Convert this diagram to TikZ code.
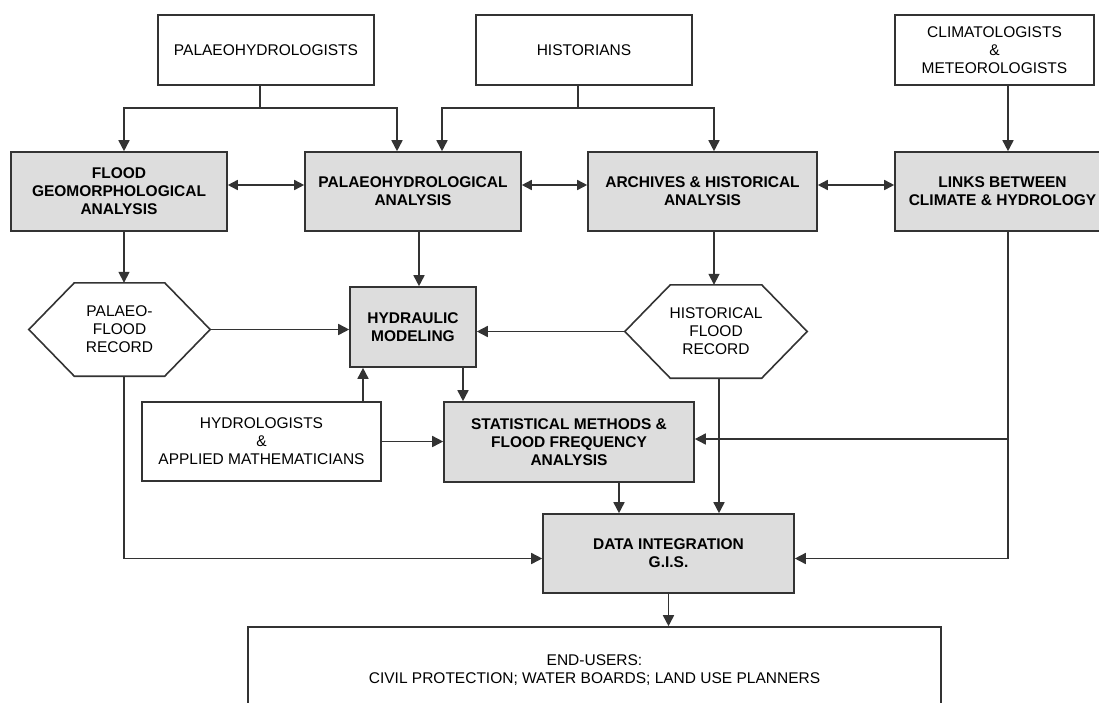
\documentclass[tikz,border=0pt]{standalone}
\usepackage{fontspec}
\setmainfont{Liberation Sans}
\usepackage{xcolor}
\usepackage{tikz}
\usetikzlibrary{arrows.meta,calc}
\definecolor{ln}{HTML}{333333}
\definecolor{gf}{HTML}{DDDDDD}
\tikzset{
  box/.style={draw=ln,line width=1.6pt,align=center,inner sep=0pt,font=\fontsize{15.5}{18}\selectfont},
  gbox/.style={box,fill=gf,font=\fontsize{15.5}{18}\selectfont\bfseries},
  hexn/.style={align=center,inner sep=0pt,font=\fontsize{15.5}{18}\selectfont},
  arr/.style={draw=ln,line width=1.6pt,-{Triangle[length=11pt,width=11pt]}},
  both/.style={draw=ln,line width=1.6pt,{Triangle[length=10pt,width=10pt]}-{Triangle[length=10pt,width=10pt]}},
}
\begin{document}
\begin{tikzpicture}[x=1pt,y=-1pt]
  \useasboundingbox (0,0) rectangle (1099,702);
  % experts on top, analyses below, end-users at the foot
  \node[box,minimum width=216pt,minimum height=70pt] (pal) at (266,50) {PALAEOHYDROLOGISTS};
  \node[box,minimum width=216pt,minimum height=70pt] (hist) at (584,50) {HISTORIANS};
  \node[box,minimum width=199pt,minimum height=70pt] (clim) at (994.5,50) {CLIMATOLOGISTS\\\&\\METEOROLOGISTS};
  \node[gbox,minimum width=216pt,minimum height=79pt] (flood) at (119,191.5) {FLOOD\\GEOMORPHOLOGICAL\\ANALYSIS};
  \node[gbox,minimum width=216pt,minimum height=79pt] (paly) at (413,191.5) {PALAEOHYDROLOGICAL\\ANALYSIS};
  \node[gbox,minimum width=229pt,minimum height=79pt] (arch) at (702.5,191.5) {ARCHIVES \& HISTORICAL\\ANALYSIS};
  \node[gbox,minimum width=215pt,minimum height=79pt] (links) at (1002.5,191.5) {LINKS BETWEEN\\CLIMATE \& HYDROLOGY};
  \node[hexn,minimum width=181pt,minimum height=93pt] (pf) at (119.5,329.5) {PALAEO-\\FLOOD\\RECORD};
  \node[hexn,minimum width=182pt,minimum height=93pt] (hf) at (716,331.5) {HISTORICAL\\FLOOD\\RECORD};
  \node[gbox,minimum width=126pt,minimum height=80pt] (hydr) at (413,327) {HYDRAULIC\\MODELING};
  \node[box,minimum width=239pt,minimum height=79pt] (hydro) at (261.5,441.5) {HYDROLOGISTS\\\&\\APPLIED MATHEMATICIANS};
  \node[gbox,minimum width=250pt,minimum height=80pt] (stat) at (569,442) {STATISTICAL METHODS \&\\FLOOD FREQUENCY\\ANALYSIS};
  \node[gbox,minimum width=251pt,minimum height=79pt] (data) at (668.5,553.5) {DATA INTEGRATION\\G.I.S.};
  \node[box,minimum width=693pt,minimum height=86pt] (end) at (594.5,670) {END-USERS:\\CIVIL PROTECTION; WATER BOARDS; LAND USE PLANNERS};
  \foreach \h in {pf,hf}
    \draw[draw=ln,line width=1.6pt] (\h.west) -- ([xshift=45.5pt]\h.north west) -- ([xshift=-45.5pt]\h.north east)
      -- (\h.east) -- ([xshift=-45.5pt]\h.south east) -- ([xshift=45.5pt]\h.south west) -- cycle;
  % top row into the analyses
  \draw[arr] ([xshift=-6pt]pal.south) -- ++(0,22) -| ([xshift=5pt]flood.north);
  \draw[arr] ([xshift=-6pt]pal.south) -- ++(0,22) -| ([xshift=-16pt]paly.north);
  \draw[arr] ([xshift=-6pt]hist.south) -- ++(0,22) -| ([xshift=29pt]paly.north);
  \draw[arr] ([xshift=-6pt]hist.south) -- ++(0,22) -| ([xshift=11.5pt]arch.north);
  \draw[arr] ([xshift=13.5pt]clim.south) -- ([xshift=13.5pt]clim.south |- links.north);
  \draw[both] ([yshift=6.5pt]flood.east) -- ([yshift=6.5pt]paly.west);
  \draw[both] ([yshift=6.5pt]paly.east) -- ([yshift=6.5pt]arch.west);
  \draw[both] ([yshift=6.5pt]arch.east) -- ([yshift=6.5pt]links.west);
  % middle part
  \draw[arr] ([xshift=5pt]flood.south) -- ([xshift=5pt]flood.south |- pf.north);
  \draw[arr] ([xshift=6pt]paly.south) -- ([xshift=6pt]paly.south |- hydr.north);
  \draw[arr] ([xshift=11.5pt]arch.south) -- ([xshift=11.5pt]arch.south |- hf.north);
  \draw[arr] (pf.east) -- (pf.east -| hydr.west);
  \draw[arr] (hf.west) -- (hf.west -| hydr.east);
  \draw[arr] ([xshift=101.5pt]hydro.north) -- ([xshift=101.5pt]hydro.north |- hydr.south);
  \draw[arr] ([xshift=50pt]hydr.south) -- ([xshift=50pt]hydr.south |- stat.north);
  \draw[arr] (hydro.east) -- (hydro.east -| stat.west);
  \coordinate (lk) at ([xshift=5.5pt]links.south);
  \coordinate (si) at ([yshift=3pt]stat.east);
  \draw[arr] (lk |- si) -- (si);
  % into data integration and on to the end-users
  \draw[arr] (lk) |- ([yshift=-5pt]data.east);
  \draw[arr] ([xshift=4.5pt]pf.south) |- ([yshift=-5pt]data.west);
  \draw[arr] ([xshift=3pt]hf.south) -- ([xshift=3pt]hf.south |- data.north);
  \draw[arr] ([xshift=50pt]stat.south) -- ([xshift=50pt]stat.south |- data.north);
  \draw[arr] (data.south) -- (data.south |- end.north);
\end{tikzpicture}
\end{document}
